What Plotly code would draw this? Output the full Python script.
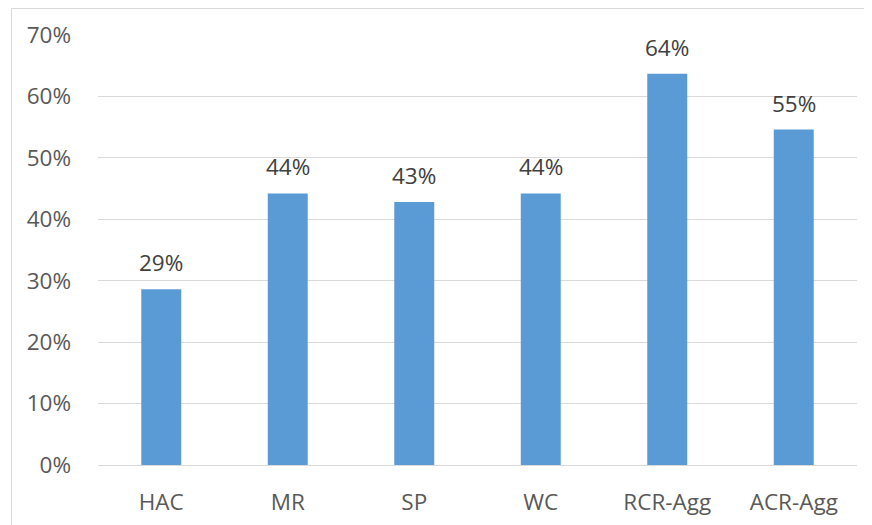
import plotly.graph_objects as go

categories = ["HAC", "MR", "SP", "WC", "RCR-Agg", "ACR-Agg"]
values = [0.286, 0.442, 0.428, 0.442, 0.637, 0.546]
labels = ["29%", "44%", "43%", "44%", "64%", "55%"]
y_ticks = [0, 0.1, 0.2, 0.3, 0.4, 0.5, 0.6, 0.7]
y_tick_text = ["0%", "10%", "20%", "30%", "40%", "50%", "60%", "70%"]

FONT = "Open Sans"
FS = 22.5
fig = go.Figure()
fig.add_trace(go.Bar(x=categories, y=values, marker=dict(color="#5B9BD5", line=dict(width=0)),
                     hoverinfo="skip"))

for c, v, t in zip(categories, values, labels):
    fig.add_annotation(x=c, y=v, text=t, showarrow=False, yanchor="bottom", yshift=9,
                       font=dict(family=FONT, size=FS, color="#404040"))

# chart-area border: only top and left edges are visible (plot area: 759 x 430 px)
bx0 = -86.5 / 759
by1 = 1 + 26.5 / 430
fig.add_shape(type="line", xref="paper", yref="paper", x0=bx0, y0=by1, x1=1.2, y1=by1,
              line=dict(color="#D9D9D9", width=1), layer="below")
fig.add_shape(type="line", xref="paper", yref="paper", x0=bx0, y0=-0.3, x1=bx0, y1=by1,
              line=dict(color="#D9D9D9", width=1), layer="below")

fig.update_layout(
    width=872, height=525,
    margin=dict(l=90, r=23, t=27, b=68),
    paper_bgcolor="white", plot_bgcolor="white",
    bargap=0.684, showlegend=False,
    font=dict(family=FONT, size=FS, color="#595959"),
    xaxis=dict(showgrid=False, showline=False, zeroline=False, ticks="",
               ticklabelstandoff=21, tickfont=dict(family=FONT, size=FS, color="#595959")),
    yaxis=dict(range=[0, 0.7], tickvals=y_ticks, ticktext=y_tick_text,
               showgrid=True, gridcolor="#D9D9D9", gridwidth=1,
               zeroline=True, zerolinecolor="#D9D9D9", zerolinewidth=1,
               showline=False, ticks="", ticklabelstandoff=26,
               tickfont=dict(family=FONT, size=FS, color="#595959")),
)

fig.write_html("out.html")
